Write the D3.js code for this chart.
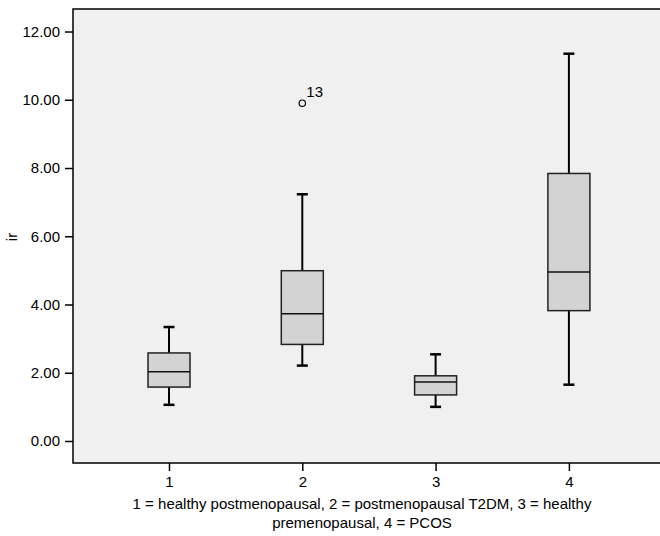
<!DOCTYPE html>
<html>
<head>
<meta charset="utf-8">
<script src="https://cdn.jsdelivr.net/npm/d3@7"></script>
<style>
  body { margin: 0; background: #fff; }
  text { font-family: "Liberation Sans", Arial, sans-serif; fill: #000; }
</style>
</head>
<body>
<div id="chart"></div>
<script>
// box plot data
var groups = ["1", "2", "3", "4"];
var whiskerLow = [1.06, 2.21, 1.00, 1.65];
var q1 = [1.58, 2.83, 1.35, 3.82];
var median = [2.03, 3.73, 1.73, 4.95];
var q3 = [2.58, 4.99, 1.91, 7.84];
var whiskerHigh = [3.34, 7.23, 2.54, 11.35];
var outliers = [{ group: "2", value: 9.90, label: "13" }];
var yTicks = [0, 2, 4, 6, 8, 10, 12];

var svgWidth = 660;
var svgHeight = 536;

var margin = { top: 9, right: -10, bottom: 73, left: 73 };
var width = svgWidth - margin.left - margin.right;
var height = svgHeight - margin.top - margin.bottom;

var svg = d3.select("#chart").append("svg")
  .attr("width", svgWidth)
  .attr("height", svgHeight);

var chartGroup = svg.append("g")
  .attr("transform", `translate(${margin.left}, ${margin.top})`);

var data = groups.map(function(g, i) {
  return { group: g, lo: whiskerLow[i], q1: q1[i], med: median[i], q3: q3[i], hi: whiskerHigh[i] };
});

var xScale = d3.scalePoint()
  .domain(groups)
  .range([96, 96 + 3 * 133.3]);

var yScale = d3.scaleLinear()
  .domain([-0.645, 12.66])
  .range([height, 0]);

// plot background
chartGroup.append("rect")
  .attr("width", width)
  .attr("height", height)
  .attr("fill", "#f0f0f0")
  .attr("stroke", "#000")
  .attr("stroke-width", 1.5);

var boxWidth = 42;
var capWidth = 11;

var boxes = chartGroup.selectAll(".box")
  .data(data)
  .enter()
  .append("g")
  .attr("class", "box");

// whiskers
boxes.append("line")
  .attr("x1", d => xScale(d.group))
  .attr("x2", d => xScale(d.group))
  .attr("y1", d => yScale(d.hi))
  .attr("y2", d => yScale(d.q3))
  .attr("stroke", "#000")
  .attr("stroke-width", 2);

boxes.append("line")
  .attr("x1", d => xScale(d.group))
  .attr("x2", d => xScale(d.group))
  .attr("y1", d => yScale(d.q1))
  .attr("y2", d => yScale(d.lo))
  .attr("stroke", "#000")
  .attr("stroke-width", 2);

boxes.append("line")
  .attr("x1", d => xScale(d.group) - capWidth / 2)
  .attr("x2", d => xScale(d.group) + capWidth / 2)
  .attr("y1", d => yScale(d.hi))
  .attr("y2", d => yScale(d.hi))
  .attr("stroke", "#000")
  .attr("stroke-width", 2.5);

boxes.append("line")
  .attr("x1", d => xScale(d.group) - capWidth / 2)
  .attr("x2", d => xScale(d.group) + capWidth / 2)
  .attr("y1", d => yScale(d.lo))
  .attr("y2", d => yScale(d.lo))
  .attr("stroke", "#000")
  .attr("stroke-width", 2.5);

// boxes
boxes.append("rect")
  .attr("x", d => xScale(d.group) - boxWidth / 2)
  .attr("y", d => yScale(d.q3))
  .attr("width", boxWidth)
  .attr("height", d => yScale(d.q1) - yScale(d.q3))
  .attr("fill", "#d3d3d3")
  .attr("stroke", "#222")
  .attr("stroke-width", 1.5);

boxes.append("line")
  .attr("x1", d => xScale(d.group) - boxWidth / 2)
  .attr("x2", d => xScale(d.group) + boxWidth / 2)
  .attr("y1", d => yScale(d.med))
  .attr("y2", d => yScale(d.med))
  .attr("stroke", "#111")
  .attr("stroke-width", 1.5);

// outliers
chartGroup.selectAll(".outlier")
  .data(outliers)
  .enter()
  .append("circle")
  .attr("cx", d => xScale(d.group))
  .attr("cy", d => yScale(d.value))
  .attr("r", 3.2)
  .attr("fill", "none")
  .attr("stroke", "#000")
  .attr("stroke-width", 1.2);

chartGroup.selectAll(".outlier-label")
  .data(outliers)
  .enter()
  .append("text")
  .attr("x", d => xScale(d.group) + 4)
  .attr("y", d => yScale(d.value) - 6)
  .style("font-size", "15px")
  .text(d => d.label);

// axes
var leftAxis = d3.axisLeft(yScale)
  .tickValues(yTicks)
  .tickSize(8)
  .tickPadding(5)
  .tickFormat(d3.format(".2f"));

var bottomAxis = d3.axisBottom(xScale)
  .tickSize(8)
  .tickPadding(5);

var yAxis = chartGroup.append("g").call(leftAxis);
var xAxis = chartGroup.append("g")
  .attr("transform", `translate(0, ${height})`)
  .call(bottomAxis);

[yAxis, xAxis].forEach(function(ax) {
  ax.select(".domain").remove();
  ax.selectAll("line").attr("stroke", "#000").attr("stroke-width", 1.5);
  ax.selectAll("text")
    .style("font-family", "'Liberation Sans', Arial, sans-serif")
    .style("font-size", "15px")
    .attr("fill", "#000");
});

// axis titles
svg.append("text")
  .attr("transform", "rotate(-90)")
  .attr("x", -237)
  .attr("y", 17)
  .style("text-anchor", "middle")
  .style("font-size", "15px")
  .text("ir");

var xTitle = svg.append("text")
  .style("text-anchor", "middle")
  .style("font-size", "15px");
xTitle.append("tspan")
  .attr("x", 362)
  .attr("y", 509)
  .text("1 = healthy postmenopausal, 2 = postmenopausal T2DM, 3 = healthy");
xTitle.append("tspan")
  .attr("x", 362)
  .attr("y", 528)
  .text("premenopausal, 4 = PCOS");
</script>
</body>
</html>
